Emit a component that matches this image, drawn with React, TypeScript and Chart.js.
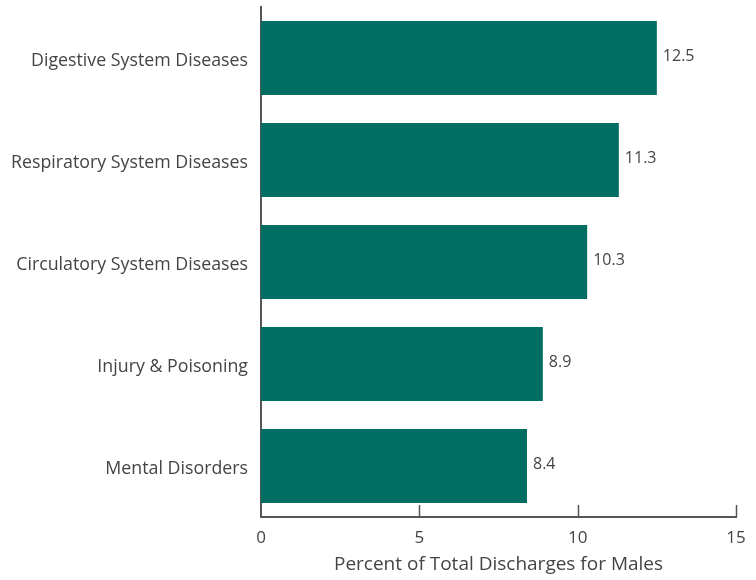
import React, { useEffect, useRef } from "react";
import { Chart, registerables } from "chart.js";

Chart.register(...registerables);

const categories = [
  "Digestive System Diseases",
  "Respiratory System Diseases",
  "Circulatory System Diseases",
  "Injury & Poisoning",
  "Mental Disorders",
];
const values = [12.5, 11.3, 10.3, 8.9, 8.4];
const xTicks = [0, 5, 10, 15];
const xTitle = "Percent of Total Discharges for Males";

const FONT = "'Open Sans', sans-serif";
const TEXT = "#444444";
const AXIS = "#555555";
const BAR = "#006E62";

const innerTicks = {
  id: "innerTicks",
  afterDatasetsDraw(chart: any) {
    const { ctx, scales, chartArea } = chart;
    const x = scales.x;
    ctx.save();
    ctx.strokeStyle = AXIS;
    ctx.lineWidth = 1.5;
    xTicks.forEach((t) => {
      if (t === 0) return;
      const px = Math.round(x.getPixelForValue(t)) + 0.5;
      ctx.beginPath();
      ctx.moveTo(px, chartArea.bottom);
      ctx.lineTo(px, chartArea.bottom - 12);
      ctx.stroke();
    });
    ctx.restore();
  },
};

const valueLabels = {
  id: "valueLabels",
  afterDatasetsDraw(chart: any) {
    const { ctx } = chart;
    const meta = chart.getDatasetMeta(0);
    ctx.save();
    ctx.fillStyle = TEXT;
    ctx.font = `16px ${FONT}`;
    ctx.textAlign = "left";
    ctx.textBaseline = "middle";
    meta.data.forEach((bar: any, i: number) => {
      ctx.fillText(values[i].toFixed(1), bar.x + 6, bar.y - 2);
    });
    ctx.restore();
  },
};

export default function App() {
  const ref = useRef<HTMLCanvasElement>(null);
  useEffect(() => {
    document.body.style.margin = "0";
    const chart = new Chart(ref.current!, {
      type: "bar",
      data: {
        labels: categories,
        datasets: [
          {
            data: values,
            backgroundColor: BAR,
            barPercentage: 0.725,
            categoryPercentage: 1,
          },
        ],
      },
      options: {
        indexAxis: "y",
        animation: false,
        responsive: false,
        layout: { padding: { top: 7, right: 20, left: 0, bottom: 0 } },
        plugins: { legend: { display: false }, tooltip: { enabled: false } },
        scales: {
          x: {
            min: 0,
            max: 15,
            afterBuildTicks(axis: any) {
              axis.ticks = xTicks.map((v) => ({ value: v }));
            },
            afterFit(axis: any) {
              axis.height = 63;
              axis.paddingLeft = 0;
              axis.paddingRight = 0;
            },
            grid: { display: false, drawTicks: false },
            border: { display: true, color: AXIS, width: 2 },
            ticks: { color: TEXT, font: { family: FONT, size: 17 }, padding: 11, maxRotation: 0 },
            title: {
              display: true,
              text: xTitle,
              color: TEXT,
              font: { family: FONT, size: 19 },
              padding: { top: 0, bottom: 4 },
            },
          },
          y: {
            afterFit(axis: any) {
              axis.width = 261;
              axis.paddingTop = 0;
              axis.paddingBottom = 0;
            },
            grid: { display: false, drawTicks: false },
            border: { display: true, color: AXIS, width: 2 },
            ticks: { color: TEXT, font: { family: FONT, size: 17.8 }, padding: 13, labelOffset: 3 },
          },
        },
      },
      plugins: [innerTicks, valueLabels],
    });
    return () => chart.destroy();
  }, []);
  return (
    <div style={{ width: 756, height: 580 }}>
      <canvas ref={ref} width={756} height={580} style={{ display: "block" }} />
    </div>
  );
}
